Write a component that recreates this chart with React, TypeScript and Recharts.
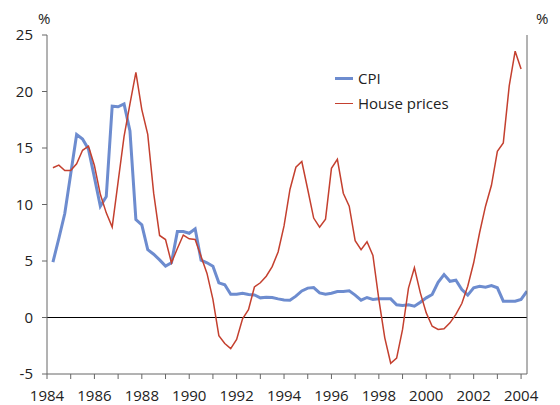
import { LineChart, Line, XAxis, YAxis, ReferenceLine, Legend } from "recharts";

// quarterly observations, first one is Q2 1984
const startYear = 1984.25;

const cpi = [
  4.9, 7.0, 9.2, // 1984
  12.7, 16.2, 15.8, 14.9, // 1985
  12.4, 9.85, 10.7, 18.7, // 1986
  18.65, 18.9, 16.5, 8.67, // 1987
  8.2, 6.0, 5.6, 5.1, // 1988
  4.55, 4.85, 7.6, 7.6, // 1989
  7.45, 7.85, 5.07, 4.84, // 1990
  4.54, 3.07, 2.9, 2.05, // 1991
  2.05, 2.15, 2.04, 2.0, // 1992
  1.74, 1.8, 1.77, 1.65, // 1993
  1.55, 1.53, 1.89, 2.35, // 1994
  2.6, 2.65, 2.18, 2.07, // 1995
  2.15, 2.3, 2.3, 2.36, // 1996
  1.98, 1.53, 1.77, 1.6, // 1997
  1.65, 1.65, 1.65, 1.12, // 1998
  1.06, 1.12, 1.0, 1.35, // 1999
  1.74, 2.04, 3.12, 3.8, // 2000
  3.2, 3.3, 2.48, 1.98, // 2001
  2.63, 2.77, 2.68, 2.83, // 2002
  2.63, 1.44, 1.44, 1.44, // 2003
  1.6, 2.33, // 2004
];

const housePrices = [
  13.25, 13.48, 13.0, // 1984
  13.0, 13.6, 14.8, 15.16, // 1985
  13.45, 10.9, 9.26, 8.0, // 1986
  12.0, 16.0, 18.9, 21.7, // 1987
  18.4, 16.2, 11.0, 7.26, // 1988
  6.9, 4.84, 6.1, 7.3, // 1989
  6.96, 6.9, 5.4, 3.9, // 1990
  1.6, -1.6, -2.3, -2.75, // 1991
  -1.95, -0.12, 0.7, 2.7, // 1992
  3.07, 3.65, 4.5, 5.8, // 1993
  8.1, 11.33, 13.3, 13.8, // 1994
  11.33, 8.8, 8.0, 8.7, // 1995
  13.2, 14.0, 11.0, 9.85, // 1996
  6.8, 6.0, 6.7, 5.5, // 1997
  1.6, -1.8, -4.05, -3.6, // 1998
  -1.06, 2.6, 4.4, 2.18, // 1999
  0.41, -0.77, -1.06, -1.0, // 2000
  -0.47, 0.27, 1.24, 2.77, // 2001
  4.84, 7.5, 9.85, 11.7, // 2002
  14.7, 15.45, 20.5, 23.57, // 2003
  22.0, null, // 2004
];

const yearTicks = [
  1984, 1985, 1986, 1987, 1988, 1989, 1990, 1991, 1992, 1993, 1994,
  1995, 1996, 1997, 1998, 1999, 2000, 2001, 2002, 2003, 2004,
];
const valueTicks = [-5, 0, 5, 10, 15, 20, 25];

const data = cpi.map((v, i) => ({
  t: startYear + i * 0.25,
  cpi: v,
  house: housePrices[i],
}));

const FONT = "'Open Sans', sans-serif";
const BLUE = "#6d8ccf";
const RED = "#c4402f";
const AXIS = "#666666";
const TEXT = "#222222";

const tickStyle = { fontFamily: FONT, fontSize: 15, fill: TEXT };

export default function App() {
  return (
    <div style={{ position: "absolute", left: 0, top: 0, width: 560, height: 405 }}>
      <LineChart width={560} height={405} data={data} margin={{ top: 35, right: 0, bottom: 0, left: 0 }}>
        <XAxis
          dataKey="t"
          type="number"
          domain={[1984, 2004.25]}
          ticks={yearTicks}
          tickFormatter={(v) => (v % 2 === 0 ? String(v) : "")}
          interval={0}
          height={31}
          tick={tickStyle}
          tickSize={5}
          tickMargin={11}
          stroke={AXIS}
          allowDataOverflow
        />
        <YAxis
          yAxisId="left"
          domain={[-5, 25]}
          ticks={valueTicks}
          width={47}
          tick={tickStyle}
          tickSize={5}
          tickMargin={9}
          stroke={AXIS}
        />
        <YAxis
          yAxisId="right"
          orientation="right"
          domain={[-5, 25]}
          ticks={valueTicks}
          width={33}
          tick={{ ...tickStyle, textAnchor: "start" }}
          tickSize={5}
          tickMargin={7}
          stroke={AXIS}
        />
        <ReferenceLine yAxisId="left" y={0} stroke="#000000" strokeWidth={1.2} />
        <Line
          yAxisId="left"
          dataKey="cpi"
          name="CPI"
          stroke={BLUE}
          strokeWidth={3}
          dot={false}
          isAnimationActive={false}
        />
        <Line
          yAxisId="left"
          dataKey="house"
          name="House prices"
          stroke={RED}
          strokeWidth={1.5}
          dot={false}
          isAnimationActive={false}
        />
        {/* middle alignment keeps the legend from eating into the plot margins */}
        <Legend
          verticalAlign="middle"
          align="center"
          layout="horizontal"
          wrapperStyle={{ left: 335, top: 68, width: 140 }}
          content={({ payload }) => (
            <div style={{ display: "flex", flexDirection: "column", gap: 4 }}>
              {(payload || []).map((p) => (
                <div key={p.value} style={{ display: "flex", alignItems: "center", height: 21 }}>
                  <div style={{
                    width: 18,
                    height: p.value === "CPI" ? 3 : 1.5,
                    backgroundColor: p.color,
                    marginRight: 5,
                  }} />
                  <span style={{ fontFamily: FONT, fontSize: 15, color: TEXT, lineHeight: 1 }}>{p.value}</span>
                </div>
              ))}
            </div>
          )}
        />
      </LineChart>
      <span style={{ position: "absolute", left: 38, top: 8, fontFamily: FONT, fontSize: 15, color: TEXT }}>%</span>
      <span style={{ position: "absolute", left: 536, top: 8, fontFamily: FONT, fontSize: 15, color: TEXT }}>%</span>
    </div>
  );
}
